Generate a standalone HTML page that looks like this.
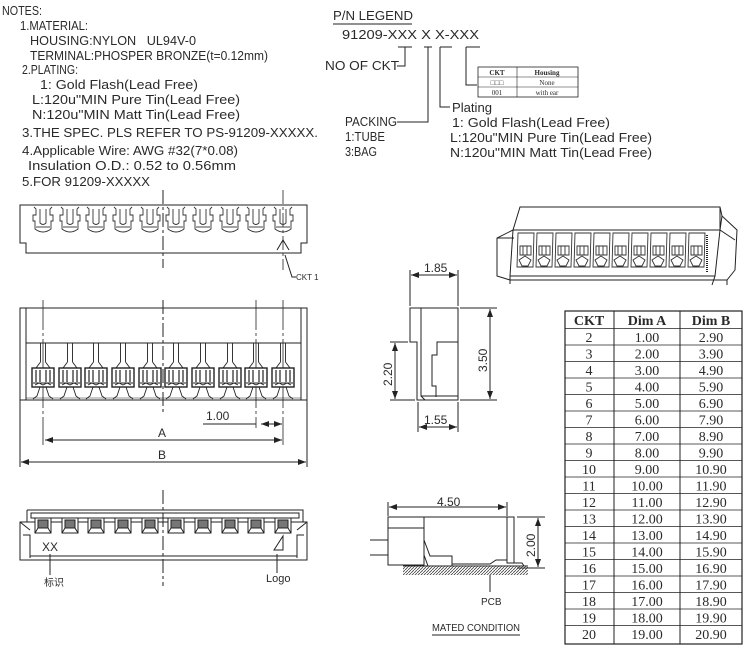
<!DOCTYPE html>
<html><head><meta charset="utf-8"><style>
body{margin:0;background:#fff}
svg{display:block}
text{font-family:"Liberation Sans","Noto Sans CJK SC",sans-serif;fill:#2a2a2a}
.t text{font-family:"Liberation Serif",serif}
</style></head><body>
<svg width="750" height="651" viewBox="0 0 750 651" xmlns="http://www.w3.org/2000/svg">
<defs>
<marker id="ar" markerWidth="8" markerHeight="6" refX="8" refY="3" orient="auto-start-reverse" markerUnits="userSpaceOnUse"><path d="M0,0L8,3L0,6z" fill="#222"/></marker>
<g id="tc" fill="none" stroke="#333" stroke-width="0.9">
<path d="M-9,2 L-7,4 L-7,10 L-10,10 L-10,16 L-8,16 L-8,24 Q0,30 8,24 L8,16 L10,16 L10,10 L7,10 L7,4 L9,2"/>
<path d="M-3,4 L-3,18 Q0,21 3,18 L3,4"/>
<path d="M-7,22 L7,22"/>
</g>
<g id="fc" stroke="#222" stroke-width="0.9" fill="none">
<path d="M-2.5,343 L-2.5,362 M2.5,343 L2.5,362 M-2.5,362 L-7,368 M2.5,362 L7,368"/>
<rect x="-11" y="368" width="22" height="19" fill="#fff" stroke-width="1.4"/>
<path d="M-7,370 V382 M-3,370 V382 M3,370 V382 M7,370 V382" stroke-width="1.2"/>
<path d="M-10,383 L10,383 M-8,385 L-4,383 L0,385 L4,383 L8,385"/>
<path d="M-3,387 L-6,396 L-10,399 M3,387 L6,396 L10,399"/>
</g>
<g id="bc" stroke="#222" stroke-width="1" fill="none">
<rect x="-8" y="518" width="16" height="15" fill="#fff"/>
<rect x="-5" y="520" width="10" height="8" fill="#777"/>
<path d="M-8,533 L-5,528 M8,533 L5,528"/>
</g>
<g id="c3" stroke="#333" stroke-width="0.9" fill="none">
<path d="M0,233 h16 l-1,34 h-16 z"/>
<path d="M2,246 h11 v9 h-11 z M5,246 v9 M9,246 v9"/>
<path d="M1,260 l6,-4 l6,4 l-3,6 h-6 z"/>
</g>
<pattern id="hat" width="3" height="3" patternUnits="userSpaceOnUse"><path d="M0,3L3,0" stroke="#444" stroke-width="0.8"/></pattern>
</defs>

<!-- NOTES -->
<g font-size="13">
<text x="2" y="15" textLength="40" lengthAdjust="spacingAndGlyphs">NOTES:</text>
<text x="20" y="30" textLength="68" lengthAdjust="spacingAndGlyphs">1.MATERIAL:</text>
<text x="30" y="45" textLength="166" lengthAdjust="spacingAndGlyphs">HOUSING:NYLON&#160;&#160;&#160;UL94V-0</text>
<text x="30" y="60" textLength="238" lengthAdjust="spacingAndGlyphs">TERMINAL:PHOSPER BRONZE(t=0.12mm)</text>
<text x="22" y="74" textLength="56" lengthAdjust="spacingAndGlyphs">2.PLATING:</text>
<text x="40" y="89" textLength="158" lengthAdjust="spacingAndGlyphs">1: Gold Flash(Lead Free)</text>
<text x="32" y="104" textLength="208" lengthAdjust="spacingAndGlyphs">L:120u"MIN Pure Tin(Lead Free)</text>
<text x="32" y="119" textLength="208" lengthAdjust="spacingAndGlyphs">N:120u"MIN Matt Tin(Lead Free)</text>
<text x="22" y="137" textLength="296" lengthAdjust="spacingAndGlyphs">3.THE SPEC. PLS REFER TO PS-91209-XXXXX.</text>
<text x="22" y="155" textLength="216" lengthAdjust="spacingAndGlyphs">4.Applicable Wire: AWG #32(7*0.08)</text>
<text x="28" y="170" textLength="208" lengthAdjust="spacingAndGlyphs">Insulation O.D.: 0.52 to 0.56mm</text>
<text x="22" y="186" textLength="128" lengthAdjust="spacingAndGlyphs">5.FOR 91209-XXXXX</text>
</g>

<!-- P/N legend -->
<g font-size="13" stroke="#222" fill="none">
<text x="333" y="20" textLength="80" lengthAdjust="spacingAndGlyphs" stroke="none">P/N LEGEND</text>
<line x1="333" y1="24" x2="412" y2="24"/>
<text x="342" y="39" textLength="137" lengthAdjust="spacingAndGlyphs" stroke="none">91209-XXX X X-XXX</text>
<path d="M398,47 H412 M405,47 V66 H397"/>
<text x="325" y="70" textLength="74" lengthAdjust="spacingAndGlyphs" stroke="none">NO OF CKT</text>
<path d="M424,47 H432 M428,47 V122 H397"/>
<text x="345" y="126" textLength="52" lengthAdjust="spacingAndGlyphs" stroke="none">PACKING</text>
<text x="345" y="141" stroke="none" textLength="40" lengthAdjust="spacingAndGlyphs">1:TUBE</text>
<text x="345" y="156" stroke="none" textLength="32" lengthAdjust="spacingAndGlyphs">3:BAG</text>
<path d="M440,47 H452 M440,47 V107 H450"/>
<text x="452" y="112" stroke="none" textLength="40" lengthAdjust="spacingAndGlyphs">Plating</text>
<text x="452" y="127" stroke="none" textLength="158" lengthAdjust="spacingAndGlyphs">1: Gold Flash(Lead Free)</text>
<text x="450" y="142" stroke="none" textLength="202" lengthAdjust="spacingAndGlyphs">L:120u"MIN Pure Tin(Lead Free)</text>
<text x="450" y="157" stroke="none" textLength="202" lengthAdjust="spacingAndGlyphs">N:120u"MIN Matt Tin(Lead Free)</text>
<path d="M466,47 H480 M466,47 V85 H477"/>
<rect x="478" y="67" width="100" height="30" stroke-width="0.8"/>
<path d="M478,77 H578 M478,87 H578 M517,67 V97" stroke-width="0.6"/>
<g class="t" font-size="7" stroke="none" text-anchor="middle">
<text x="497" y="75" font-weight="bold">CKT</text><text x="547" y="75" font-weight="bold">Housing</text>
<text x="497" y="85">□□□</text><text x="547" y="85">None</text>
<text x="497" y="95">001</text><text x="547" y="95">with ear</text>
</g>
</g>

<!-- Top view -->
<g stroke="#222" fill="none" stroke-width="1">
<path d="M20,205 H307 V243 H301 V253 H26 V243 H20 Z"/>
<line x1="163" y1="190" x2="163" y2="268" stroke-dasharray="14,3,3,3"/>
<line x1="283" y1="190" x2="283" y2="270" stroke-dasharray="14,3,3,3" stroke-width="0.8"/>
<path d="M277,250 L283,240 L289,250 M285,255 L292,277 H296"/>
</g>
<use href="#tc" x="43" y="205"/><use href="#tc" x="70" y="205"/><use href="#tc" x="96" y="205"/><use href="#tc" x="123" y="205"/><use href="#tc" x="150" y="205"/><use href="#tc" x="176" y="205"/><use href="#tc" x="203" y="205"/><use href="#tc" x="230" y="205"/><use href="#tc" x="256" y="205"/><use href="#tc" x="283" y="205"/>
<text x="296" y="280" font-size="8">CKT 1</text>

<!-- Front view -->
<g stroke="#222" fill="none" stroke-width="1">
<path d="M20,308 H307 V400 H20 Z"/>
<path d="M26,308 V400 M301,308 V400 M26,343 H301"/>
<path d="M26,398 H301" stroke-width="0.6"/>
<line x1="163" y1="300" x2="163" y2="412" stroke-dasharray="14,3,3,3"/>
<line x1="43" y1="300" x2="43" y2="445" stroke-dasharray="30,3,3,3" stroke-width="0.8"/>
<line x1="283" y1="300" x2="283" y2="445" stroke-dasharray="30,3,3,3" stroke-width="0.8"/>
<line x1="256" y1="300" x2="256" y2="428" stroke-dasharray="30,3,3,3" stroke-width="0.8"/>
<line x1="20" y1="400" x2="20" y2="467"/><line x1="307" y1="400" x2="307" y2="467"/>
<path d="M203,424 H256" />
<line x1="261" y1="424" x2="282" y2="424" marker-start="url(#ar)" marker-end="url(#ar)"/>
<line x1="45" y1="440" x2="282" y2="440" marker-start="url(#ar)" marker-end="url(#ar)"/>
<line x1="21" y1="462" x2="306" y2="462" marker-start="url(#ar)" marker-end="url(#ar)"/>
</g>
<use href="#fc" x="43"/><use href="#fc" x="70"/><use href="#fc" x="96"/><use href="#fc" x="123"/><use href="#fc" x="150"/><use href="#fc" x="176"/><use href="#fc" x="203"/><use href="#fc" x="230"/><use href="#fc" x="256"/><use href="#fc" x="283"/>
<text x="206" y="420" font-size="12">1.00</text>
<text x="158" y="437" font-size="12">A</text>
<text x="158" y="459" font-size="12">B</text>

<!-- Bottom view -->
<g stroke="#222" fill="none" stroke-width="1">
<path d="M27,510 H303 V522 M27,510 V522"/>
<path d="M31,513 H299 V518 H31 Z"/>
<path d="M20,522 H307 V560 H20 Z"/>
<path d="M23,535 H30 V558 M304,535 H297 V558 M20,522 L30,530 M307,522 L297,530 M30,556 H297"/>
<line x1="163" y1="490" x2="163" y2="586" stroke-dasharray="14,3,3,3"/>
<path d="M50,554 V575 M277,554 V573"/>
<path d="M274,550 L283,536 L283,550 Z"/>
</g>
<use href="#bc" x="43"/><use href="#bc" x="70"/><use href="#bc" x="96"/><use href="#bc" x="123"/><use href="#bc" x="150"/><use href="#bc" x="176"/><use href="#bc" x="203"/><use href="#bc" x="230"/><use href="#bc" x="256"/><use href="#bc" x="283"/>
<text x="42" y="551" font-size="12" fill="#555">XX</text>
<text x="44" y="586" font-size="10">标识</text>
<text x="266" y="582" font-size="11">Logo</text>

<!-- Side view -->
<g stroke="#222" fill="none" stroke-width="1">
<path d="M410,308 H458 V400 H417 V342 H410 Z"/>
<path d="M421,308 V396 L425,400 M458,342 H437 V355 H432 V386 H436 V397 M421,396 H458"/>
<path d="M410,270 V306 M458,270 V306"/>
<line x1="411" y1="275" x2="457" y2="275" marker-start="url(#ar)" marker-end="url(#ar)"/>
<path d="M390,342 H408 M390,400 H415 M460,308 H497 M460,400 H497"/>
<line x1="395" y1="343" x2="395" y2="399" marker-start="url(#ar)" marker-end="url(#ar)"/>
<line x1="490" y1="309" x2="490" y2="399" marker-start="url(#ar)" marker-end="url(#ar)"/>
<path d="M418,402 V432 M458,402 V432"/>
<line x1="419" y1="427" x2="457" y2="427" marker-start="url(#ar)" marker-end="url(#ar)"/>
</g>
<text x="424" y="272" font-size="12">1.85</text>
<text x="424" y="424" font-size="12">1.55</text>
<text font-size="12" transform="translate(392,386) rotate(-90)">2.20</text>
<text font-size="12" transform="translate(487,372) rotate(-90)">3.50</text>

<!-- Mated -->
<g stroke="#222" fill="none" stroke-width="1">
<path d="M388,502 V516 M507,502 V516"/>
<line x1="389" y1="507" x2="506" y2="507" marker-start="url(#ar)" marker-end="url(#ar)"/>
<path d="M388,517 H424 V565 H388 Z M388,528 H424"/>
<path d="M424,517 H507 M370,540 H388 M370,555 H388"/>
<path d="M424,540 L430,556 H452 V566 M424,555 L428,566"/>
<path d="M452,564 H490 L496,560 H507"/>
<rect x="507" y="517" width="7" height="46"/>
<path d="M514,563 H522 L524,566"/>
<rect x="403" y="566" width="125" height="9" fill="url(#hat)" stroke="none"/>
<path d="M403,566 H528"/>
<path d="M517,517 H545 M517,568 H545 M490,575 V592"/>
<line x1="538" y1="518" x2="538" y2="567" marker-start="url(#ar)" marker-end="url(#ar)"/>
<line x1="432" y1="635" x2="520" y2="635"/>
</g>
<text x="437" y="506" font-size="12">4.50</text>
<text font-size="12" transform="translate(535,557) rotate(-90)">2.00</text>
<text x="481" y="605" font-size="10">PCB</text>
<text x="432" y="631" font-size="10" textLength="88" lengthAdjust="spacingAndGlyphs">MATED CONDITION</text>

<!-- 3D view -->
<g stroke="#222" fill="none" stroke-width="1">
<path d="M520,207 H720 L722,216 L737,230 L735,270 L727,280 H510 L497,276 L497,238 L513,230 Z"/>
<path d="M513,230 H720 V207 M720,230 L722,216 M720,230 L715,276 H510 M497,238 H514 M720,230 L735,240"/>
<path d="M510,276 V284 M715,276 L712,285 M727,280 V285 M513,230 L510,276"/>
<path d="M707,235 V272" stroke-dasharray="1,1" stroke-width="2"/>
</g>
<use href="#c3" x="518"/><use href="#c3" x="537"/><use href="#c3" x="556"/><use href="#c3" x="575"/><use href="#c3" x="594"/><use href="#c3" x="613"/><use href="#c3" x="632"/><use href="#c3" x="651"/><use href="#c3" x="670"/><use href="#c3" x="689"/>

<!-- Table -->
<g stroke="#222" fill="none">
<rect x="565" y="311" width="177" height="333" stroke-width="1.2"/>
<path d="M614,311 V644 M680,311 V644" stroke-width="1"/>
<path stroke-width="0.8" d="M565,328.5H742M565,345H742M565,361.5H742M565,378H742M565,394.5H742M565,411H742M565,427.5H742M565,444H742M565,460.5H742M565,477H742M565,493.5H742M565,510H742M565,526.5H742M565,543H742M565,559.5H742M565,576H742M565,592.5H742M565,609H742M565,625.5H742"/>
</g>
<g class="t" font-size="14" text-anchor="middle">
<text x="589" y="325" font-weight="bold">CKT</text><text x="647" y="325" font-weight="bold">Dim A</text><text x="711" y="325" font-weight="bold">Dim B</text>
<text x="589" y="342">2</text><text x="647" y="342">1.00</text><text x="711" y="342">2.90</text>
<text x="589" y="358.5">3</text><text x="647" y="358.5">2.00</text><text x="711" y="358.5">3.90</text>
<text x="589" y="375">4</text><text x="647" y="375">3.00</text><text x="711" y="375">4.90</text>
<text x="589" y="391.5">5</text><text x="647" y="391.5">4.00</text><text x="711" y="391.5">5.90</text>
<text x="589" y="408">6</text><text x="647" y="408">5.00</text><text x="711" y="408">6.90</text>
<text x="589" y="424.5">7</text><text x="647" y="424.5">6.00</text><text x="711" y="424.5">7.90</text>
<text x="589" y="441">8</text><text x="647" y="441">7.00</text><text x="711" y="441">8.90</text>
<text x="589" y="457.5">9</text><text x="647" y="457.5">8.00</text><text x="711" y="457.5">9.90</text>
<text x="589" y="474">10</text><text x="647" y="474">9.00</text><text x="711" y="474">10.90</text>
<text x="589" y="490.5">11</text><text x="647" y="490.5">10.00</text><text x="711" y="490.5">11.90</text>
<text x="589" y="507">12</text><text x="647" y="507">11.00</text><text x="711" y="507">12.90</text>
<text x="589" y="523.5">13</text><text x="647" y="523.5">12.00</text><text x="711" y="523.5">13.90</text>
<text x="589" y="540">14</text><text x="647" y="540">13.00</text><text x="711" y="540">14.90</text>
<text x="589" y="556.5">15</text><text x="647" y="556.5">14.00</text><text x="711" y="556.5">15.90</text>
<text x="589" y="573">16</text><text x="647" y="573">15.00</text><text x="711" y="573">16.90</text>
<text x="589" y="589.5">17</text><text x="647" y="589.5">16.00</text><text x="711" y="589.5">17.90</text>
<text x="589" y="606">18</text><text x="647" y="606">17.00</text><text x="711" y="606">18.90</text>
<text x="589" y="622.5">19</text><text x="647" y="622.5">18.00</text><text x="711" y="622.5">19.90</text>
<text x="589" y="639">20</text><text x="647" y="639">19.00</text><text x="711" y="639">20.90</text>
</g>
</svg>
</body></html>
